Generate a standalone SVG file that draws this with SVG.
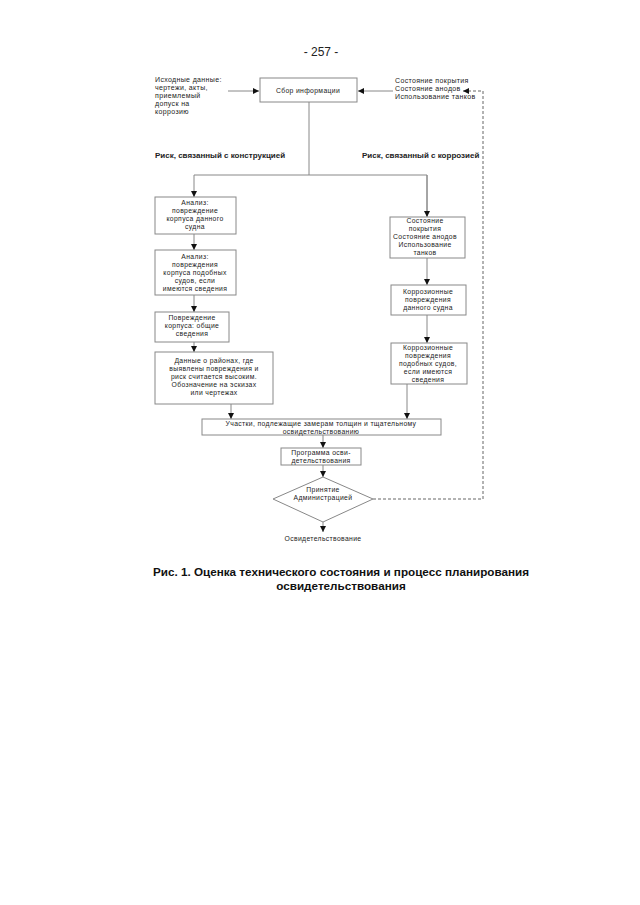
<svg xmlns="http://www.w3.org/2000/svg" width="640" height="905" viewBox="0 0 640 905">
<style>
text{font-family:"Liberation Sans",Arial,sans-serif;fill:#222;}
.t{font-size:6.8px;letter-spacing:0.35px;text-anchor:middle;}
.tl{font-size:7px;letter-spacing:0.35px;}
.b{font-size:8px;font-weight:bold;}
.box{fill:#fff;stroke:#888;stroke-width:1;}
.ln{stroke:#888;stroke-width:1;fill:none;}
.dash{stroke:#666;stroke-width:1;fill:none;stroke-dasharray:3,2;}
.cap{font-size:11.7px;font-weight:bold;text-anchor:middle;fill:#111;}
</style>
<defs>
<marker id="ah" viewBox="0 0 6 6" refX="6" refY="3" markerWidth="6" markerHeight="6" orient="auto" markerUnits="userSpaceOnUse">
<path d="M0,0 L6,3 L0,6 z" fill="#111"/>
</marker>
</defs>
<rect width="640" height="905" fill="#fff"/>
<text x="321" y="56" style="font-size:12px;text-anchor:middle;">- 257 -</text>

<g id="connectors">
<line class="ln" x1="228" y1="91" x2="259" y2="91" marker-end="url(#ah)"/>
<line class="ln" x1="393" y1="91" x2="358" y2="91" marker-end="url(#ah)"/>
<path class="ln" d="M309,102 V175 M194,175 H427 V216"/>
<line class="ln" x1="194" y1="175" x2="194" y2="197" marker-end="url(#ah)"/>
<line class="ln" x1="427" y1="175" x2="427" y2="217" marker-end="url(#ah)"/>
<line class="ln" x1="194" y1="234" x2="194" y2="250" marker-end="url(#ah)"/>
<line class="ln" x1="194" y1="295" x2="194" y2="312" marker-end="url(#ah)"/>
<line class="ln" x1="194" y1="342" x2="194" y2="352" marker-end="url(#ah)"/>
<line class="ln" x1="427" y1="258" x2="427" y2="285" marker-end="url(#ah)"/>
<line class="ln" x1="427" y1="315" x2="427" y2="343" marker-end="url(#ah)"/>
<line class="ln" x1="231" y1="404" x2="231" y2="419" marker-end="url(#ah)"/>
<line class="ln" x1="407" y1="384" x2="407" y2="419" marker-end="url(#ah)"/>
<line class="ln" x1="323" y1="435" x2="323" y2="448" marker-end="url(#ah)"/>
<line class="ln" x1="323" y1="465" x2="323" y2="477" marker-end="url(#ah)"/>
<line class="ln" x1="323" y1="522" x2="323" y2="532" marker-end="url(#ah)"/>
<path class="dash" d="M373,499 H483 V91 H463" marker-end="url(#ah)"/>
</g>

<g id="input-left">
<text class="tl" x="155" y="82">Исходные данные:</text>
<text class="tl" x="155" y="90">чертежи, акты,</text>
<text class="tl" x="155" y="98">приемлемый</text>
<text class="tl" x="155" y="106">допуск на</text>
<text class="tl" x="155" y="114">коррозию</text>
</g>
<g id="input-right">
<text class="tl" x="395" y="83">Состояние покрытия</text>
<text class="tl" x="395" y="91">Состояние анодов</text>
<text class="tl" x="395" y="99">Использование танков</text>
</g>

<g id="n-sbor">
<rect class="box" x="260" y="78" width="97" height="24"/>
<text class="t" x="308" y="93">Сбор информации</text>
</g>

<text class="b" x="155" y="158">Риск, связанный с конструкцией</text>
<text class="b" x="362" y="158">Риск, связанный с коррозией</text>

<g id="n-a1">
<rect class="box" x="155" y="197" width="81" height="37"/>
<text class="t" x="195" y="205">Анализ:</text>
<text class="t" x="195" y="213">повреждение</text>
<text class="t" x="195" y="221">корпуса данного</text>
<text class="t" x="195" y="229">судна</text>
</g>
<g id="n-a2">
<rect class="box" x="155" y="250" width="81" height="45"/>
<text class="t" x="195" y="259">Анализ:</text>
<text class="t" x="195" y="267">повреждения</text>
<text class="t" x="195" y="275">корпуса подобных</text>
<text class="t" x="195" y="283">судов, если</text>
<text class="t" x="195" y="291">имеются сведения</text>
</g>
<g id="n-a3">
<rect class="box" x="155" y="312" width="74" height="30"/>
<text class="t" x="192" y="320">Повреждение</text>
<text class="t" x="192" y="328">корпуса: общие</text>
<text class="t" x="192" y="336">сведения</text>
</g>
<g id="n-a4">
<rect class="box" x="155" y="352" width="118" height="52"/>
<text class="t" x="214" y="363">Данные о районах, где</text>
<text class="t" x="214" y="371">выявлены повреждения и</text>
<text class="t" x="214" y="379">риск считается высоким.</text>
<text class="t" x="214" y="387">Обозначение на эскизах</text>
<text class="t" x="214" y="395">или чертежах</text>
</g>

<g id="n-b1">
<rect class="box" x="390" y="217" width="75" height="41"/>
<text class="t" x="425" y="223">Состояние</text>
<text class="t" x="425" y="231">покрытия</text>
<text class="t" x="425" y="239">Состояние анодов</text>
<text class="t" x="425" y="247">Использование</text>
<text class="t" x="425" y="255">танков</text>
</g>
<g id="n-b2">
<rect class="box" x="391" y="285" width="75" height="30"/>
<text class="t" x="428" y="294">Коррозионные</text>
<text class="t" x="428" y="302">повреждения</text>
<text class="t" x="428" y="310">данного судна</text>
</g>
<g id="n-b3">
<rect class="box" x="391" y="343" width="76" height="41"/>
<text class="t" x="428" y="350">Коррозионные</text>
<text class="t" x="428" y="358">повреждения</text>
<text class="t" x="428" y="366">подобных судов,</text>
<text class="t" x="428" y="374">если имеются</text>
<text class="t" x="428" y="382">сведения</text>
</g>

<g id="n-c">
<rect class="box" x="202" y="419" width="239" height="16"/>
<text class="t" x="321" y="425.5">Участки, подлежащие замерам толщин и тщательному</text>
<text class="t" x="321" y="433.5">освидетельствованию</text>
</g>
<g id="n-d">
<rect class="box" x="281" y="448" width="80" height="17"/>
<text class="t" x="321" y="455">Программа осви-</text>
<text class="t" x="321" y="463">детельствования</text>
</g>
<g id="n-e">
<path class="box" d="M323,477 L373,499 L323,522 L273,499 z"/>
<text class="t" x="323" y="492">Принятие</text>
<text class="t" x="323" y="500">Администрацией</text>
</g>
<g id="n-f">
<text class="t" x="323" y="541">Освидетельствование</text>
</g>

<text class="cap" x="341" y="576">Рис. 1. Оценка технического состояния и процесс планирования</text>
<text class="cap" x="341" y="590">освидетельствования</text>
</svg>
